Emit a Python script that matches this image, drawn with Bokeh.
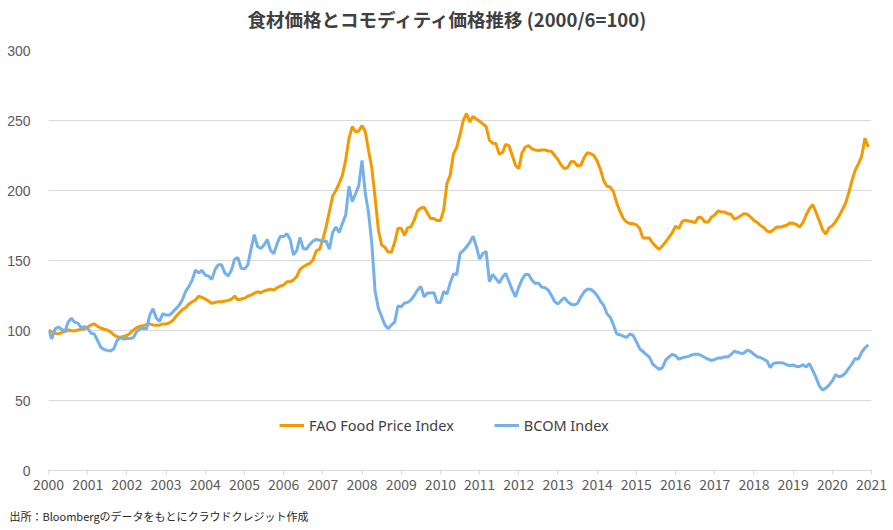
from bokeh.plotting import figure
from bokeh.models import Range1d, FixedTicker, Legend, LegendItem, Title
from bokeh.embed import file_html
from bokeh.resources import INLINE

# Monthly index values starting 2000/6 (=100)
fao_food = [
    100, 99, 98, 97.6, 98.5, 99.2, 100.4, 100, 99.7, 100.4, 100.8, 101.1,
    102.5, 104, 104.7, 103, 101.8, 100.9, 100.4, 99, 96.9, 95.5, 95.2, 95.7,
    96.5, 98, 100.4, 102, 103, 103.5, 104.2, 104.7, 104, 103.7, 103.8, 104.7,
    104.7, 105.5, 107, 110, 112.5, 115, 116.5, 119, 120.5, 121.8, 124.6, 123.7,
    122.5, 121, 119.4, 120, 120.6, 120.6, 121, 121.5, 122.3, 124.6, 121.8, 122.5,
    123, 124.5, 125.3, 126.5, 127.7, 127, 128.2, 128.9, 129.4, 128.9, 130.5, 131.8,
    132.5, 134.8, 135, 136, 138.5, 143.7, 145.5, 146.8, 147.9, 150.5, 157, 158,
    165, 174, 185, 196, 200, 205, 211, 222, 237, 245.7, 242, 242.5,
    246.5, 242, 228.6, 216, 195, 172, 161, 159.5, 156, 156, 163, 173,
    173, 168, 173.5, 174, 179, 185.5, 187.5, 188, 184, 180, 180, 178.5,
    178.5, 186, 205, 211, 226, 231, 240, 250, 255, 249, 253, 251,
    249.5, 247.5, 245.7, 236, 233.8, 233.5, 226, 227, 233, 232, 225, 218,
    215.5, 227, 231, 232, 229.8, 229, 228.6, 229, 229, 228.2, 228, 225,
    222, 218, 215.6, 216.5, 220.8, 220.5, 217.5, 218, 223.5, 227, 226.3, 225,
    221, 215, 207, 203, 202.5, 199, 191, 185, 180, 177.5, 176.4, 176.4,
    175.5, 173, 166, 166, 166, 162.5, 160, 158, 160.5, 163.5, 166.5, 170,
    174.5, 173, 177.8, 178.8, 178.2, 177.8, 177, 181, 180.5, 177.5, 177.5, 181,
    182.5, 185.4, 184.7, 184.7, 183.5, 183, 179.5, 180.5, 182, 183.5, 183, 181,
    178.5, 177.2, 175, 173.5, 171, 170.4, 172, 174, 173.8, 174.5, 175.2, 176.7,
    176.6, 175.7, 173.8, 177, 182.5, 187, 190, 184.5, 178.5, 172, 168.8, 173.4,
    174.8, 177.8, 181.5, 186, 190.7, 198, 207, 214.5, 219, 224.5, 237.4, 231,
]

bcom = [
    100, 94, 101, 102.5, 101, 99, 106, 108.8, 106, 105.3, 102, 102.8,
    101.6, 98, 97.6, 93, 88, 86.5, 85.8, 85.3, 87, 93, 95, 93.8,
    94.5, 94.2, 95, 99.2, 101, 101.6, 101, 111, 115.5, 109, 106.5, 112,
    111, 111, 113, 115.5, 118, 122, 128, 131.5, 136, 143.2, 141.2, 143,
    139.5, 139, 136.5, 143.5, 147, 147, 141, 139, 143, 151, 152, 144.5,
    144, 146.7, 158, 168.5, 160, 158.6, 161, 165, 157, 155, 162, 167.4,
    167, 169.2, 165, 154, 157, 166.4, 158.6, 158.1, 161.5, 164, 165, 164.5,
    163.5, 164, 158, 170, 174, 170, 176.5, 182.5, 203, 192, 197.5, 203.5,
    221.5, 198, 184, 162, 128, 115.9, 110, 104, 101.2, 104, 106, 117.5,
    117, 119.6, 120.1, 121.8, 125, 129, 131.5, 124, 126.8, 126.8, 127, 120,
    120, 128, 126, 134, 140.3, 140, 155, 157, 159.8, 163, 167.4, 160,
    151, 155, 156.5, 135, 140, 137, 134, 138, 140.8, 135, 129, 124,
    131, 136.5, 140, 140, 136, 133.5, 134, 131, 130.5, 129, 125, 120.5,
    119, 121.5, 123.5, 120.5, 118.8, 118.2, 119.4, 124, 127.5, 129.5, 129.5, 127.7,
    125, 121, 118, 112, 109.5, 104, 97.5, 97, 96, 95, 97.5, 96.5,
    92, 87, 85, 83, 81, 76, 74, 72.2, 73.5, 79, 81.2, 83,
    82, 79.5, 80.5, 81, 81.5, 82.5, 83.1, 83, 82, 80.7, 79.6, 78.6,
    79.3, 80.3, 80.3, 81.2, 81, 83, 85.2, 84.5, 83.6, 84, 86, 85,
    83, 81.3, 80.7, 79.5, 78.2, 73.5, 76.5, 77, 77, 76.8, 75.5, 74.9,
    75.4, 74.3, 74.3, 75.5, 74, 76.3, 71.5, 66.5, 60.5, 57.5, 58.8, 61,
    64, 68.5, 67, 67.5, 69.5, 73, 76, 80, 79.5, 84.5, 87.5, 89.7,
]

start_year = 2000
year_ticks = list(range(2000, 2022))
y_ticks = [0, 50, 100, 150, 200, 250, 300]
title_text = "食材価格とコモディティ価格推移 (2000/6=100)"
source_text = "出所：Bloombergのデータをもとにクラウドクレジット作成"
series_names = ["FAO Food Price Index", "BCOM Index"]

x = [start_year + i / 12 for i in range(len(fao_food))]

p = figure(width=893, height=530, output_backend="svg", toolbar_location=None,
           x_range=Range1d(2000, 2021), y_range=Range1d(0, 300),
           min_border_left=48, min_border_right=22, min_border_top=50,
           min_border_bottom=59)
p.outline_line_color = None
p.background_fill_color = "white"
p.border_fill_color = "white"

# small spacer between the frame and the title (title sits outermost)
top_spacer = Title(text=" ", text_font_size="1px", standoff=14)
p.add_layout(top_spacer, "above")

p.title.text = title_text
p.title.align = "left"
p.title.offset = 199
p.title.standoff = 4
p.title.text_font = "Noto Sans CJK JP"
p.title.text_font_size = "18.5px"
p.title.text_font_style = "bold"
p.title.text_color = "#404040"

p.xgrid.visible = False
p.ygrid.grid_line_color = "#d9d9d9"
p.ygrid.grid_line_width = 1
p.ygrid.ticker = FixedTicker(ticks=y_ticks)

p.yaxis.ticker = FixedTicker(ticks=y_ticks)
p.yaxis.axis_line_color = None
p.yaxis.major_tick_line_color = None
p.yaxis.minor_tick_line_color = None
p.yaxis.major_label_standoff = 12
p.yaxis.major_label_text_font = "Liberation Sans"
p.yaxis.major_label_text_font_size = "14px"
p.yaxis.major_label_text_color = "#595959"

p.xaxis.ticker = FixedTicker(ticks=year_ticks)
p.xaxis.axis_line_color = "#d9d9d9"
p.xaxis.major_tick_line_color = "#d9d9d9"
p.xaxis.major_tick_out = 4
p.xaxis.major_tick_in = 0
p.xaxis.minor_tick_line_color = None
p.xaxis.major_label_standoff = 4
p.xaxis.major_label_text_font = "Noto Sans CJK JP"
p.xaxis.major_label_text_font_size = "14px"
p.xaxis.major_label_text_color = "#595959"

r1 = p.line(x, fao_food, line_color="#F39A00", line_width=3)
r2 = p.line(x, bcom, line_color="#74B1EA", line_width=3)

legend = Legend(items=[LegendItem(label=series_names[0], renderers=[r1]),
                       LegendItem(label=series_names[1], renderers=[r2])],
                location=(231, 35), orientation="horizontal",
                border_line_color=None, background_fill_alpha=0,
                glyph_width=25, glyph_height=20, label_standoff=5,
                spacing=40, padding=0, margin=0,
                label_text_font="Noto Sans", label_text_font_size="14.5px",
                label_text_color="#404040")
p.add_layout(legend, "center")

bottom_spacer = Title(text=" ", text_font_size="1px", standoff=4)
p.add_layout(bottom_spacer, "below")

source = Title(text=source_text, align="left", offset=-39,
               text_font="Noto Sans CJK JP", text_font_size="11px",
               text_font_style="normal", text_color="#262626", standoff=13)
p.add_layout(source, "below")

open("out.html", "w").write(file_html(p, INLINE))
